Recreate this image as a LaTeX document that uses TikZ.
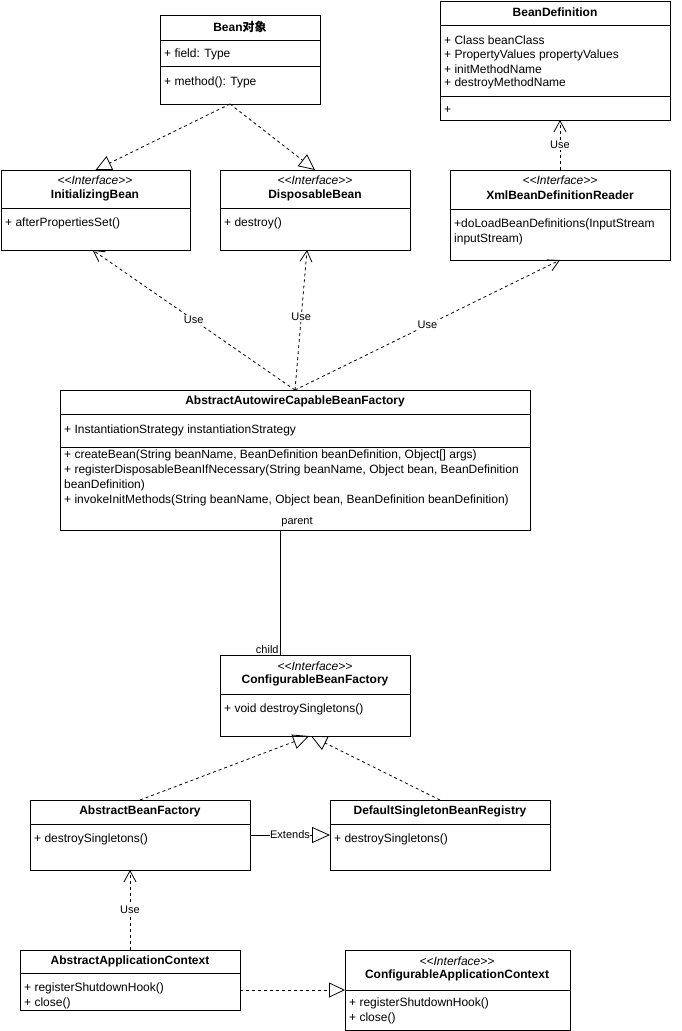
\documentclass[tikz,border=0pt]{standalone}
\usepackage{fontspec}
\setmainfont{Liberation Sans}
\newfontfamily\cjk{Noto Sans CJK SC}
\usetikzlibrary{arrows.meta}
\newcommand{\stereo}{<{}<Interface>{}>}
\tikzset{
  box/.style={draw, line width=1pt, inner sep=0pt, outer sep=0pt, anchor=north west, fill=white},
  mem/.style={anchor=west, inner sep=0pt, align=left, yshift=-2pt, font=\fontsize{12}{15}\selectfont},
  ttl/.style={inner sep=0pt, font=\fontsize{12}{15}\selectfont\bfseries},
  ster/.style={inner sep=0pt, font=\fontsize{12}{15}\selectfont\itshape},
  divl/.style={line width=1pt},
  dep/.style={line width=0.8pt, dash pattern=on 3pt off 3pt, -{Straight Barb[length=11pt,width=12pt,line width=0.8pt]}},
  real/.style={line width=0.8pt, dash pattern=on 3pt off 3pt, -{Triangle[open,length=16pt,width=15pt,line width=0.8pt]}},
  gen/.style={line width=0.8pt, -{Triangle[open,length=18pt,width=16pt,line width=0.8pt]}},
  assoc/.style={line width=0.8pt},
  lbl/.style={fill=white, inner sep=1pt, font=\fontsize{11}{13}\selectfont},
}
\begin{document}
\begin{tikzpicture}[x=1pt,y=-1pt]
\useasboundingbox (0,0) rectangle (681,1031);

% Bean object
\node[box, minimum width=160pt, minimum height=89pt] (bean) at (160,15) {};
\node[ttl] (beant) at (240,27) {Bean{\cjk\bfseries 对象}};
\draw[divl] (160,40) -- (320,40);
\node[mem] (beanf) at (164,52) {+ field: Type};
\draw[divl] (160,66) -- (320,66);
\node[mem] (beanm) at (164,80) {+ method(): Type};

% BeanDefinition
\node[box, minimum width=230pt, minimum height=119pt] (bd) at (440,1) {};
\node[ttl] (bdt) at (555,12) {BeanDefinition};
\draw[divl] (440,25) -- (670,25);
\node[mem] (bdf1) at (444,38) {+ Class beanClass};
\node[mem] (bdf2) at (444,53) {+ PropertyValues propertyValues};
\node[mem] (bdf3) at (444,67) {+ initMethodName};
\node[mem] (bdf4) at (444,81) {+ destroyMethodName};
\draw[divl] (440,96) -- (670,96);
\node[mem] (bdm) at (444,108) {+};

% InitializingBean
\node[box, minimum width=189pt, minimum height=80pt] (init) at (1,170) {};
\node[ster] (inits) at (95,180) {\stereo};
\node[ttl] (initt) at (95,195) {InitializingBean};
\draw[divl] (1,208) -- (190,208);
\node[mem] (initm) at (5,221) {+ afterPropertiesSet()};

% DisposableBean
\node[box, minimum width=190pt, minimum height=80pt] (disp) at (220,170) {};
\node[ster] (disps) at (315,180) {\stereo};
\node[ttl] (dispt) at (315,195) {DisposableBean};
\draw[divl] (220,208) -- (410,208);
\node[mem] (dispm) at (224,221) {+ destroy()};

% XmlBeanDefinitionReader
\node[box, minimum width=220pt, minimum height=90pt] (xml) at (450,170) {};
\node[ster] (xmls) at (560,180) {\stereo};
\node[ttl] (xmlt) at (560,195) {XmlBeanDefinitionReader};
\draw[divl] (450,209) -- (670,209);
\node[mem, anchor=north west] (xmlm) at (454,217) {+doLoadBeanDefinitions(InputStream\\inputStream)};

% AbstractAutowireCapableBeanFactory
\node[box, minimum width=470pt, minimum height=140pt] (aacbf) at (60,390) {};
\node[ttl] (aacbft) at (295,401) {AbstractAutowireCapableBeanFactory};
\draw[divl] (60,414) -- (530,414);
\node[mem] (aacbff) at (64,428) {+ InstantiationStrategy instantiationStrategy};
\draw[divl] (60,447) -- (530,447);
\node[mem, anchor=north west] (aacbfm) at (64,448) {+ createBean(String beanName, BeanDefinition beanDefinition, Object[] args)\\+ registerDisposableBeanIfNecessary(String beanName, Object bean, BeanDefinition\\beanDefinition)\\+ invokeInitMethods(String beanName, Object bean, BeanDefinition beanDefinition)};

% ConfigurableBeanFactory
\node[box, minimum width=190pt, minimum height=81pt] (cbf) at (220,655) {};
\node[ster] (cbfs) at (315,666) {\stereo};
\node[ttl] (cbft) at (315,680) {ConfigurableBeanFactory};
\draw[divl] (220,694) -- (410,694);
\node[mem] (cbfm) at (224,707) {+ void destroySingletons()};

% AbstractBeanFactory
\node[box, minimum width=220pt, minimum height=70pt] (abf) at (30,800) {};
\node[ttl] (abft) at (140,811) {AbstractBeanFactory};
\draw[divl] (30,824) -- (250,824);
\node[mem] (abfm) at (34,837) {+ destroySingletons()};

% DefaultSingletonBeanRegistry
\node[box, minimum width=220pt, minimum height=70pt] (dsbr) at (330,800) {};
\node[ttl] (dsbrt) at (440,811) {DefaultSingletonBeanRegistry};
\draw[divl] (330,824) -- (550,824);
\node[mem] (dsbrm) at (334,837) {+ destroySingletons()};

% AbstractApplicationContext
\node[box, minimum width=220pt, minimum height=60pt] (aac) at (20,950) {};
\node[ttl] (aact) at (130,961) {AbstractApplicationContext};
\draw[divl] (20,973) -- (240,973);
\node[mem, anchor=north west] (aacm) at (24,981) {+ registerShutdownHook()\\+ close()};

% ConfigurableApplicationContext
\node[box, minimum width=225pt, minimum height=80pt] (cac) at (345,950) {};
\node[ster] (cacs) at (457,961) {\stereo};
\node[ttl] (cact) at (457,975) {ConfigurableApplicationContext};
\draw[divl] (345,990) -- (570,990);
\node[mem, anchor=north west] (cacm) at (349,996) {+ registerShutdownHook()\\+ close()};

% connectors
\draw[real] ([xshift=-10pt]bean.south) -- (init.north);
\draw[real] ([xshift=-10pt]bean.south) -- (disp.north);
\draw[dep] (xml.north) -- node[lbl] {Use} ([xshift=5pt]bd.south);
\draw[dep] (aacbf.north) -- node[lbl, pos=0.5] {Use} ([xshift=-3pt]init.south);
\draw[dep] (aacbf.north) -- node[lbl, pos=0.52] {Use} ([xshift=-8pt]disp.south);
\draw[dep] (aacbf.north) -- node[lbl, pos=0.5] {Use} (xml.south);
\draw[assoc] ([xshift=-15pt]aacbf.south) -- ([xshift=-35pt]cbf.north)
  node[pos=0, anchor=south west, inner sep=1pt, yshift=2pt, font=\fontsize{11}{13}\selectfont] {parent}
  node[pos=1, anchor=south east, inner sep=1pt, font=\fontsize{11}{13}\selectfont] {child};
\draw[real] (abf.north) -- ([xshift=-6pt]cbf.south);
\draw[real] (dsbr.north) -- ([xshift=-4pt]cbf.south);
\draw[gen] (abf.east) -- node[lbl, inner sep=0.5pt] {Extends} (dsbr.west);
\draw[dep] (aac.north) -- node[lbl] {Use} ([xshift=-10pt]abf.south);
\draw[real] (aac.east |- cac.west) -- (cac.west);
\end{tikzpicture}
\end{document}
